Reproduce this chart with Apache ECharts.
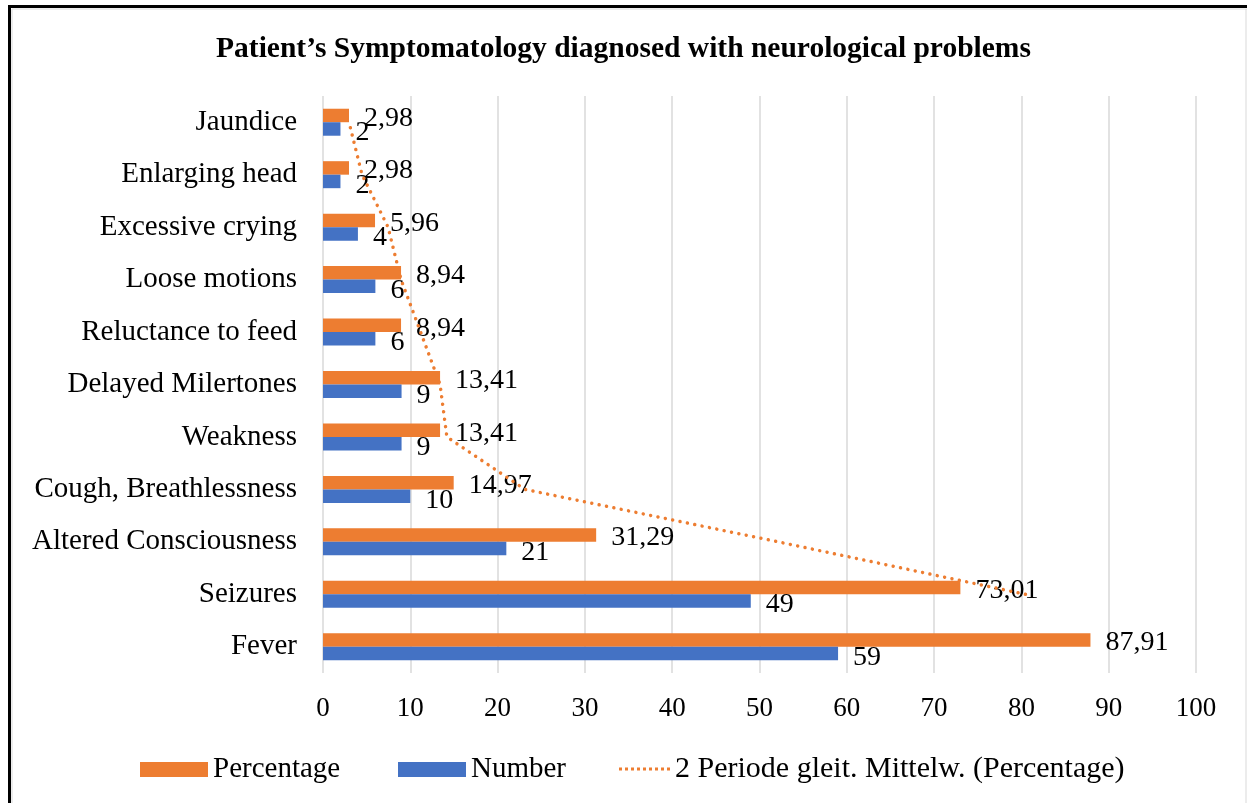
<!DOCTYPE html>
<html>
<head>
  <meta charset="utf-8" />
  <title>Patient's Symptomatology</title>
  <script src="https://cdn.jsdelivr.net/npm/echarts@6/dist/echarts.min.js"></script>
  <style>
    html, body { margin: 0; padding: 0; background: #fff; }
  </style>
</head>
<body>
  <div id="main" style="width: 1247px;height:803px;"></div>
  <script type="text/javascript">
    // categories, bottom to top (as in the source sheet)
    var symptoms = ['Fever', 'Seizures', 'Altered Consciousness', 'Cough, Breathlessness', 'Weakness',
      'Delayed Milertones', 'Reluctance to feed', 'Loose motions', 'Excessive crying', 'Enlarging head', 'Jaundice'];
    var numbers = [59, 49, 21, 10, 9, 9, 6, 6, 4, 2, 2];
    var percentages = [87.91, 73.01, 31.29, 14.97, 13.41, 13.41, 8.94, 8.94, 5.96, 2.98, 2.98];
    // 2-period moving average as drawn in the picture (no point for the first category)
    var movingAvg = ['-', 80.46, 52.15, 23.13, 14.19, 13.41, 11.18, 8.94, 7.45, 4.47, 2.98];
    var xTicks = [0, 10, 20, 30, 40, 50, 60, 70, 80, 90, 100];

    var trendName = '2 Periode gleit. Mittelw. (Percentage)';
    var orange = '#ED7D31';
    var blue = '#4472C4';
    var font = '"Liberation Serif", "Times New Roman", serif';

    // dotted legend marker
    var dots = '';
    for (var i = 0; i < 9; i++) {
      dots += 'M' + (i * 6) + ',0h3v3h-3z';
    }

    var myChart = echarts.init(document.getElementById('main'));

    var commaFmt = function (p) {
      return String(p.value).replace('.', ',');
    };

    var legendText = { fontFamily: font, fontSize: 29, color: '#000' };

    var option = {
      animation: false,
      textStyle: { fontFamily: font, color: '#000' },
      title: {
        text: 'Patient’s Symptomatology diagnosed with neurological problems',
        left: 'center',
        top: 29,
        textStyle: { fontFamily: font, fontSize: 29.5, fontWeight: 'bold', color: '#000' }
      },
      legend: [
        {
          data: [{ name: 'Percentage', icon: 'rect' }], left: 135, top: 750,
          itemWidth: 68, itemHeight: 15, itemGap: 7,
          textStyle: legendText
        },
        {
          data: [{ name: 'Number', icon: 'rect' }], left: 393, top: 750,
          itemWidth: 68, itemHeight: 15, itemGap: 7,
          textStyle: legendText
        },
        {
          data: [{ name: trendName, icon: 'path://' + dots }], left: 614, top: 749,
          itemWidth: 51, itemHeight: 3, itemGap: 10,
          textStyle: { fontFamily: font, fontSize: 30, color: '#000' }
        }
      ],
      grid: { left: 323, right: 51, top: 96, bottom: 130 },
      xAxis: {
        type: 'value',
        min: 0, max: 100, interval: 10,
        axisLine: { show: false },
        axisTick: { show: false },
        splitLine: { show: true, lineStyle: { color: '#d9d9d9', width: 1.5 } },
        axisLabel: {
          fontFamily: font, fontSize: 27, color: '#000', margin: 22,
          formatter: function (v) { return xTicks.indexOf(v) >= 0 ? String(v) : ''; }
        }
      },
      yAxis: {
        type: 'category',
        data: symptoms,
        axisLine: { show: false },
        axisTick: { show: false },
        axisLabel: { fontFamily: font, fontSize: 29, color: '#000', margin: 26 }
      },
      series: [
        {
          name: 'Percentage',
          type: 'bar',
          data: percentages,
          barWidth: 13.5,
          barGap: '0%',
          itemStyle: { color: orange },
          label: {
            show: true, position: 'right', distance: 15,
            fontFamily: font, fontSize: 28, color: '#000', offset: [0, 3],
            formatter: commaFmt
          },
          z: 2
        },
        {
          name: 'Number',
          type: 'bar',
          data: numbers,
          barWidth: 13.5,
          barGap: '0%',
          itemStyle: { color: blue },
          label: {
            show: true, position: 'right', distance: 15,
            fontFamily: font, fontSize: 28, color: '#000', offset: [0, 4]
          },
          z: 2
        },
        {
          name: trendName,
          type: 'line',
          data: movingAvg,
          symbol: 'none',
          connectNulls: false,
          lineStyle: { color: orange, width: 3.5, type: [0.01, 7.5], cap: 'round' },
          itemStyle: { color: orange },
          z: 5
        }
      ],
      graphic: [
        { type: 'line', shape: { x1: 9.5, y1: 5, x2: 9.5, y2: 803 }, style: { stroke: '#000', lineWidth: 3 } },
        { type: 'line', shape: { x1: 8, y1: 6.5, x2: 1247, y2: 6.5 }, style: { stroke: '#000', lineWidth: 3 } },
        { type: 'line', shape: { x1: 12, y1: 9, x2: 12, y2: 803 }, style: { stroke: '#d9d9d9', lineWidth: 1 } },
        { type: 'line', shape: { x1: 12, y1: 9, x2: 1247, y2: 9 }, style: { stroke: '#d9d9d9', lineWidth: 1 } },
        { type: 'line', shape: { x1: 1246, y1: 9, x2: 1246, y2: 803 }, style: { stroke: '#d9d9d9', lineWidth: 1 } }
      ]
    };

    option && myChart.setOption(option);
  </script>
</body>
</html>
